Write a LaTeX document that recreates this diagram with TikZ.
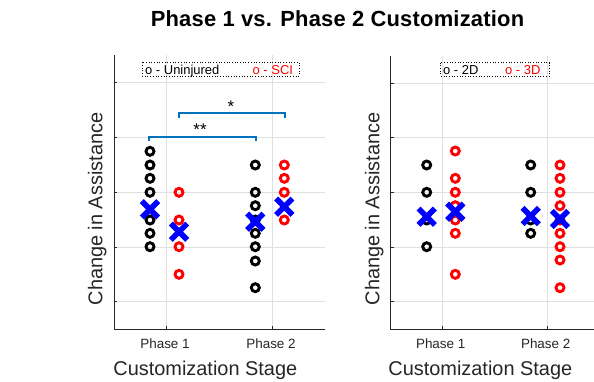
\documentclass[tikz,border=0pt]{standalone}
\usepackage{fontspec}
\setmainfont{Liberation Sans}
\definecolor{brk}{RGB}{0,114,189}
\definecolor{axc}{RGB}{38,38,38}
\definecolor{grd}{RGB}{223,223,223}
\begin{document}
\begin{tikzpicture}[x=1bp,y=-1bp,
  axline/.style={draw=axc,line width=0.9bp},
  gridline/.style={draw=grd,line width=0.8bp},
  ringk/.style={draw=black,line width=2.9bp},
  ringr/.style={draw=red,line width=2.9bp},
  bracket/.style={draw=brk,line width=2bp},
  legbox/.style={draw=black,dotted,line width=0.7bp},
  ticklab/.style={font=\fontsize{13.5}{14}\selectfont,text=axc},
  axlab/.style={font=\fontsize{20}{22}\selectfont,text=axc},
  legtext/.style={font=\fontsize{13}{14}\selectfont,anchor=base west,inner sep=0pt},
  starlab/.style={anchor=base,font=\fontsize{17}{17}\selectfont,inner sep=0pt},
  meanx/.pic={\draw[blue,line width=5.6bp] (-8.2,-8.2) -- (8.2,8.2) (-8.2,8.2) -- (8.2,-8.2);}
]
\useasboundingbox (0,0) rectangle (594,381);

% title
\node[anchor=base,font=\fontsize{22}{24}\selectfont\bfseries\addfontfeature{LetterSpace=1}] (title) at (337.5,26) {Phase 1 vs. Phase 2 Customization};

% ---------------- left axes ----------------
\begin{scope}
  \foreach \gy in {82.6,137.4,192.3,247,301.8}
    \draw[gridline] (114,\gy) -- (325,\gy);
  \foreach \gx in {166.7,272.3}
    \draw[gridline] (\gx,55) -- (\gx,329);
  \draw[axline] (114,55) -- (114,329) -- (325,329);
  \foreach \gy in {82.6,137.4,192.3,247,301.8}
    \draw[axline] (114,\gy) -- (117,\gy);
  \foreach \gx in {166.7,272.3}
    \draw[axline] (\gx,329) -- (\gx,326);
\end{scope}

% legend
\draw[legbox] (142.3,62.3) rectangle (299,76);
\node[legtext] (legU) at (145,74.3) {o - Uninjured};
\node[legtext,text=red] (legS) at (252.5,74.3) {o - SCI};

% significance brackets
\draw[bracket] (149.3,140.5) -- (149.3,137) -- (256,137) -- (256,140.5);
\draw[bracket] (179,117.5) -- (179,113) -- (285.3,113) -- (285.3,117.5);
\node[starlab] (s2) at (200,135) {**};
\node[starlab] (s1) at (231,112.5) {*};

% data, left axes
\foreach \v in {151.3,165,178.3,192.3,220,233.3,246.7}
  \draw[ringk] (150,\v) circle[radius=4bp];
\foreach \v in {192.3,220,246.7,274.3}
  \draw[ringr] (179,\v) circle[radius=4bp];
\foreach \v in {165,192.3,205.7,220,233.3,246.7,261,287.7}
  \draw[ringk] (255.3,\v) circle[radius=4bp];
\foreach \v in {165,178.3,192.3,220}
  \draw[ringr] (284.3,\v) circle[radius=4bp];
\pic at (150,209.3) {meanx};
\pic at (179,231.7) {meanx};
\pic at (255.3,221.7) {meanx};
\pic at (284.3,206.7) {meanx};

% labels, left axes
\node[ticklab] (p1a) at (165,344) {Phase 1};
\node[ticklab] (p2a) at (271,344) {Phase 2};
\node[axlab,anchor=base] (xla) at (205.3,375) {Customization Stage};
\node[axlab,anchor=base,rotate=90] (yla) at (102.3,209) {Change in Assistance};

% ---------------- right axes ----------------
\begin{scope}
  \foreach \gy in {83,137.8,192.3,247,301.5}
    \draw[gridline] (390.5,\gy) -- (594,\gy);
  \foreach \gx in {442.3,547.3}
    \draw[gridline] (\gx,56) -- (\gx,329);
  \draw[axline] (390.5,56) -- (390.5,329) -- (594,329);
  \foreach \gy in {83,137.8,192.3,247,301.5}
    \draw[axline] (390.5,\gy) -- (393.5,\gy);
  \foreach \gx in {442.3,547.3}
    \draw[axline] (\gx,329) -- (\gx,326);
\end{scope}

% legend
\draw[legbox] (440.7,62.7) rectangle (549.3,76);
\node[legtext] (leg2) at (443,74.3) {o - 2D};
\node[legtext,text=red] (leg3) at (505,74.3) {o - 3D};

% data, right axes
\foreach \v in {165,192.3,220,246.7}
  \draw[ringk] (426.7,\v) circle[radius=4bp];
\foreach \v in {151,178.3,192.3,205.7,220,233.3,274.3}
  \draw[ringr] (455.3,\v) circle[radius=4bp];
\foreach \v in {165,192.3,220,233.3}
  \draw[ringk] (530.7,\v) circle[radius=4bp];
\foreach \v in {165,178.3,192.3,205.7,220,233.3,246.7,260,287.7}
  \draw[ringr] (560,\v) circle[radius=4bp];
\pic at (426.7,216.7) {meanx};
\pic at (455.3,211.7) {meanx};
\pic at (530.7,216) {meanx};
\pic at (560,219) {meanx};

% labels, right axes
\node[ticklab] (p1b) at (440.7,344) {Phase 1};
\node[ticklab] (p2b) at (545.7,344) {Phase 2};
\node[axlab,anchor=base] (xlb) at (480.3,375) {Customization Stage};
\node[axlab,anchor=base,rotate=90] (ylb) at (379.3,209) {Change in Assistance};
\end{tikzpicture}
\end{document}
